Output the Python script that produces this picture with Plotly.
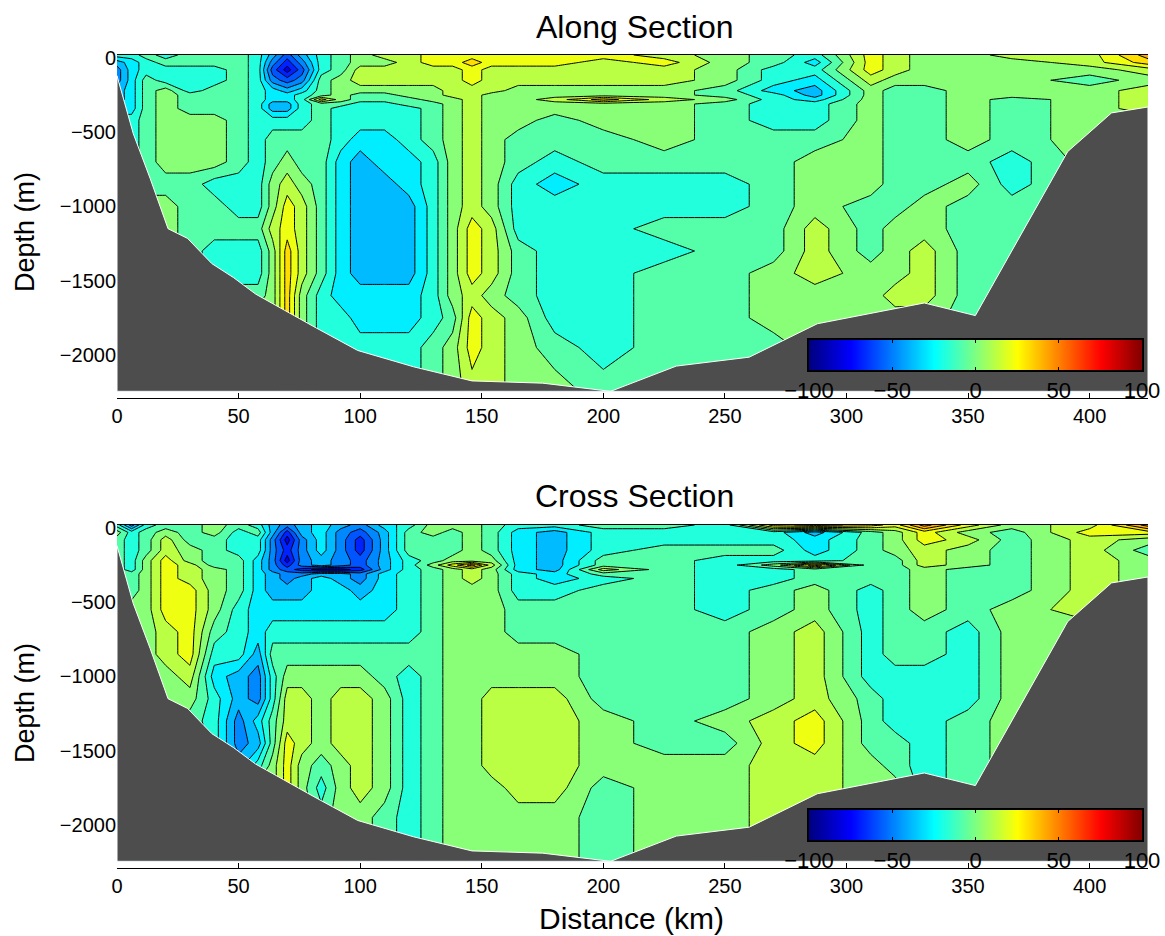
import plotly.graph_objects as go

W, H = 1165, 936

distance_km = [0,6,12,20,30,40,50,58,64,70,76,84,92,100,110,120,130,138,146,154,165,180,200,225,250,270,287,310,320,332,350,368,400,424]
depth_m = [20,-30,-80,-150,-220,-250,-280,-310,-340,-420,-550,-700,-850,-1000,-1150,-1300,-1450,-1600,-1750,-1950,-2245]

along = [
 [-15,-15,-5,-15,-5,-5,-5,-15,-35,-55,-35,-15,-5,5,15,15,25,25,25,25,25,25,25,15,5,-5,-15,25,15,5,5,15,15,45],
 [-35,-25,-15,-5,-5,-5,-5,-15,-45,-65,-45,-15,-5,5,5,15,25,25,35,25,25,25,15,25,5,-5,-25,25,15,5,5,5,15,35],
 [-45,-25,-15,-15,-15,-15,-5,-15,-55,-75,-55,-15,-5,15,15,15,15,15,25,15,15,15,15,15,5,-15,-15,25,15,5,5,5,5,15],
 [-45,-25,-5,-15,-15,-15,-5,-15,-45,-55,-45,-5,5,15,15,15,15,15,25,15,15,15,15,15,5,-15,-25,15,5,5,5,5,-5,5],
 [-35,-25,-5,5,-15,-5,-5,-15,-25,-35,-25,-5,5,5,5,5,5,15,15,15,5,5,5,5,-5,-25,-35,5,-5,-5,5,5,5,15],
 [-35,-25,-5,5,-5,-5,-5,-15,-25,-25,-15,-5,5,-5,-5,5,5,15,15,5,5,5,5,5,-5,-15,-35,5,-5,-5,5,5,5,15],
 [-35,-25,-5,5,-5,-5,-5,-15,-25,-25,-15,25,5,-5,-5,-5,5,5,15,5,5,15,35,15,5,-15,-25,5,-5,-5,5,-5,5,15],
 [-25,-25,-5,5,-5,-5,-5,-15,-35,-35,-15,-5,-5,-15,-15,-5,-5,5,15,5,5,5,5,5,-5,-15,-15,5,-5,-5,5,-5,5,15],
 [-25,-25,-5,5,-5,-5,-5,-15,-35,-35,-15,-5,-15,-15,-15,-15,-5,5,15,5,5,5,5,5,-5,-15,-15,5,-5,-5,5,-5,5,15],
 [-15,-15,-5,5,5,5,-5,-15,-15,-15,-15,-5,-15,-15,-15,-15,-5,5,15,5,5,-5,5,5,-5,-15,-15,5,-5,-5,5,-5,5,5],
 [-15,-15,-5,5,5,5,-5,-15,-5,-5,-5,-5,-15,-25,-25,-15,-5,5,15,5,-5,-5,-5,5,-5,-5,-5,5,-5,-5,5,-5,5,5],
 [-15,-15,-5,5,5,5,-5,-15,-5,5,-5,-5,-25,-35,-25,-25,-15,5,15,5,-5,-15,-5,-5,-5,-5,5,5,-5,-5,-5,-15,5,5],
 [-5,-5,-5,-5,-5,-15,-15,-15,5,15,5,-5,-25,-35,-35,-25,-15,5,15,5,-15,-25,-15,-15,-15,-5,5,5,-5,-5,5,-15,5,5],
 [5,5,5,5,-5,-5,-15,-15,5,25,15,-5,-25,-35,-35,-35,-15,5,15,5,-15,-15,-15,-15,-15,-5,5,-5,-5,5,-5,-5,5,5],
 [5,5,5,5,-5,-5,-5,-5,15,25,15,-5,-25,-35,-35,-35,-15,5,25,15,-15,-15,-15,-5,-5,-5,15,-5,5,5,-5,-5,5,5],
 [5,5,5,5,-5,-15,-15,-15,5,35,15,-5,-25,-35,-35,-35,-15,5,25,15,-5,-15,-15,-15,-5,-5,15,-5,5,15,-5,-5,5,5],
 [5,5,5,5,-5,-15,-15,-15,5,35,15,-5,-25,-35,-35,-35,-15,5,25,15,-5,-15,-15,-5,-5,5,15,5,5,15,-5,-5,5,5],
 [5,5,5,5,5,-5,-5,-5,5,35,5,-15,-25,-25,-25,-25,-15,5,15,5,-5,-15,-15,-5,-5,5,5,5,15,15,-5,-5,5,5],
 [5,5,5,5,5,5,5,5,5,35,5,-15,-15,-25,-25,-25,-15,-5,25,15,5,-15,-15,-5,-5,5,5,5,5,5,-5,-5,5,5],
 [5,5,5,5,5,5,5,5,5,35,5,-15,-15,-15,-15,-15,-5,5,25,15,5,-5,-15,-5,-5,-5,5,5,5,5,-5,-5,5,5],
 [5,5,5,5,5,5,5,5,5,35,5,-15,-15,-15,-15,-15,-5,5,15,15,5,5,-5,-5,-5,-5,5,5,5,5,-5,-5,5,5],
]

cross = [
 [-15,-45,-15,-5,-5,5,-5,-15,-35,-45,-35,-25,-35,-45,-25,-15,5,5,5,-5,-15,-15,-5,-5,-15,35,45,35,25,55,25,5,15,55],
 [5,-15,-5,5,-5,5,-15,-5,-35,-65,-35,-25,-45,-55,-35,-5,5,-5,5,-5,-25,-35,-15,-15,-15,-15,-35,-5,5,25,5,-5,25,25],
 [-5,-15,-5,15,-5,-5,-15,-15,-45,-75,-45,-25,-45,-65,-35,-5,-5,-5,5,-5,-25,-35,-15,-15,-15,-15,-25,-5,5,25,15,-5,15,5],
 [-5,-15,-5,15,5,-5,-15,-15,-45,-65,-45,-25,-45,-65,-35,-5,-5,-5,5,-5,-25,-35,-15,-5,-5,-5,-25,-5,5,15,5,-5,15,-5],
 [-5,-15,5,25,5,-5,-5,-25,-45,-75,-45,-35,-45,-55,-35,-15,-5,5,5,5,-25,-35,-5,-5,-15,-15,-15,-5,-5,15,5,-5,15,5],
 [-5,-15,5,25,15,-5,-5,-25,-45,-65,-45,-35,-45,-55,-35,-15,5,25,45,15,-25,-35,-5,-5,-15,5,35,-5,-5,15,5,-5,15,5],
 [-5,-15,5,25,15,5,-5,-25,-45,-55,-65,-75,-75,-65,-35,-15,-5,5,15,5,-25,-35,15,-5,-15,-15,-5,-5,-5,5,-5,-5,15,5],
 [-5,-5,5,25,15,5,-5,-25,-35,-45,-45,-35,-35,-45,-25,-15,-5,5,15,5,-15,-25,-5,-5,-15,-15,-5,-5,-5,5,-5,-5,15,5],
 [-5,-5,5,25,15,5,-5,-25,-35,-45,-35,-25,-35,-45,-25,-15,-5,5,15,5,-15,-25,-15,-5,-15,-15,-5,-5,-5,5,-5,-5,15,5],
 [-5,-5,5,25,25,5,-5,-25,-35,-35,-35,-25,-25,-35,-25,-15,-5,5,5,5,-15,-15,-5,-5,-15,-5,5,-15,-5,5,-5,-5,15,5],
 [5,5,5,25,25,5,-15,-25,-25,-25,-25,-25,-25,-25,-25,-15,-5,5,5,5,-5,-5,-5,-5,-15,-5,5,-15,-5,5,-5,5,15,5],
 [5,5,5,15,25,-5,-15,-25,-15,-15,-15,-15,-15,-15,-15,-15,-5,5,5,5,-5,-5,-5,-5,-5,5,15,-15,-5,-5,-15,5,5,5],
 [5,5,5,15,25,-15,-15,-35,-5,-5,-5,-5,-5,-5,-5,-5,-5,5,5,5,5,5,-5,-5,-5,5,15,-15,-5,-5,-15,5,5,5],
 [5,5,5,5,15,-25,-35,-45,-15,5,5,5,5,5,-5,-15,-5,5,5,5,5,5,-5,-5,-5,5,15,-15,-15,-15,-15,5,5,5],
 [5,5,5,5,5,-15,-35,-45,-15,15,15,5,15,15,5,-15,-5,5,5,15,15,15,-5,-5,-5,5,15,-5,-15,-15,-15,5,5,5],
 [5,5,5,5,-5,-15,-45,-25,-5,15,15,5,15,15,5,-15,-5,5,5,15,15,15,5,-5,5,15,25,-5,-15,-15,-5,5,5,5],
 [5,5,5,5,5,-15,-45,-35,-5,25,15,5,15,15,5,-15,-5,5,5,15,15,15,5,-5,-5,15,25,-5,-5,-15,-5,5,5,5],
 [5,5,5,5,5,-15,-35,-15,5,25,5,-5,5,15,5,-15,-5,5,5,15,15,15,5,5,5,15,15,5,-5,-15,-5,5,5,5],
 [5,5,5,5,5,5,5,5,5,25,5,-15,5,15,5,-15,-5,5,5,5,15,15,-5,5,5,15,15,5,5,-15,-5,5,5,5],
 [5,5,5,5,5,5,5,5,5,25,5,-5,5,5,-5,-15,-5,5,5,5,5,5,-5,5,5,15,15,5,5,-15,-5,5,5,5],
 [5,5,5,5,5,5,5,5,5,25,5,-5,5,5,-5,-15,-5,5,5,5,5,5,-5,5,5,15,15,5,5,-15,-5,5,5,5],
]

seabed_km = [0,6.7,13.6,21,29,39,48,57,81,99,122,146,175,203,230,260,288,332,353,391,409,424,424,0,0]
seabed_m = [-120,-510,-810,-1150,-1215,-1385,-1480,-1590,-1810,-1970,-2080,-2175,-2190,-2245,-2075,-2015,-1790,-1650,-1735,-630,-370,-330,-2245,-2245,-120]

x_ticks = [0,50,100,150,200,250,300,350,400]
y_ticks = [0,-500,-1000,-1500,-2000]
cbar_ticks = [-100,-50,0,50,100]
cbar_values = list(range(-100, 101, 2))

JET = [[0,"#000080"],[0.125,"#0000ff"],[0.375,"#00ffff"],[0.625,"#ffff00"],[0.875,"#ff0000"],[1,"#800000"]]
# bands in the reference are painted a little below their midpoint
JET_BANDS = [[0,"#000080"],[0.142,"#0000ff"],[0.392,"#00ffff"],[0.642,"#ffff00"],[0.892,"#ff0000"],[1,"#800000"]]
FONT = "Liberation Sans, Arial, sans-serif"
GREY = "#4d4d4d"

def px_x(p): return p / W
def px_y(p): return 1 - p / H

fig = go.Figure()

panels = [(along, 55, 398), (cross, 525, 868)]

for i, (z, top, bottom) in enumerate(panels):
    n = "" if i == 0 else "2"
    xa, ya = "x" + n, "y" + n
    fig.add_trace(go.Contour(
        x=distance_km, y=depth_m, z=z, xaxis=xa, yaxis=ya,
        colorscale=JET_BANDS, zmin=-100, zmax=100, showscale=False,
        autocontour=False,
        contours=dict(start=-100, end=100, size=10, coloring="fill", showlines=True),
        line=dict(color="black", width=1, smoothing=0),
    ))
    fig.add_trace(go.Scatter(
        x=seabed_km, y=seabed_m, xaxis=xa, yaxis=ya, mode="lines",
        fill="toself", fillcolor=GREY, line=dict(color="white", width=1),
        hoverinfo="skip", showlegend=False,
    ))
    fig.layout["xaxis" + n] = dict(
        domain=[px_x(117), px_x(1148)], range=[0, 424], anchor="y" + n,
        tickvals=x_ticks, ticks="inside", ticklen=5, tickwidth=1, tickcolor="black",
        showline=True, linecolor="black", linewidth=1, mirror=True, showgrid=False,
        zeroline=False, automargin=False, tickfont=dict(size=20, family=FONT, color="black"),
    )
    fig.layout["yaxis" + n] = dict(
        domain=[px_y(bottom), px_y(top)], range=[-2290, 20], anchor="x" + n,
        tickvals=y_ticks, ticks="", showline=False, showgrid=False, zeroline=False,
        automargin=False, tickfont=dict(size=20, family=FONT, color="black"),
        tickformat="d",
    )

    # inset colour bar
    cb_top = top + 285
    cb_bot = cb_top + 30
    j = "3" if i == 0 else "4"
    fig.add_trace(go.Heatmap(
        x=cbar_values, y=[0, 1], z=[cbar_values, cbar_values], xaxis="x" + j, yaxis="y" + j,
        colorscale=JET, zmin=-100, zmax=100, showscale=False, zsmooth="best", hoverinfo="skip",
    ))
    fig.layout["xaxis" + j] = dict(
        domain=[px_x(809), px_x(1142)], range=[-100, 100], anchor="y" + j,
        tickvals=cbar_ticks, ticks="inside", ticklen=3, tickcolor="black",
        showline=True, linecolor="black", linewidth=1.5, mirror="ticks", showgrid=False,
        zeroline=False, automargin=False, tickfont=dict(size=22, family=FONT, color="black"),
        ticklabelstandoff=0, tickformat="d",
    )
    fig.layout["yaxis" + j] = dict(
        domain=[px_y(cb_bot), px_y(cb_top)], range=[0, 1], anchor="x" + j,
        showticklabels=False, ticks="", showline=True, linecolor="black", linewidth=1.5,
        mirror=True, showgrid=False, zeroline=False, automargin=False,
    )

def label(text, px, py, size, angle=0):
    fig.add_annotation(text=text, x=px / W, y=1 - py / H, xref="paper", yref="paper",
                       showarrow=False, textangle=angle, xanchor="center", yanchor="middle",
                       font=dict(size=size, family=FONT, color="black"))

label("Along Section", 634, 27, 32)
label("Cross Section", 634, 496, 32)
label("Depth (m)", 25, 232, 27, -90)
label("Depth (m)", 25, 703, 27, -90)
label("Distance (km)", 632, 918, 30)

fig.update_layout(
    width=W, height=H, margin=dict(l=0, r=0, t=0, b=0),
    paper_bgcolor="white", plot_bgcolor="white", showlegend=False, template="none",
)

fig.write_html("out.html", config=dict(displayModeBar=False),
               post_script="document.body.style.margin='0';")
